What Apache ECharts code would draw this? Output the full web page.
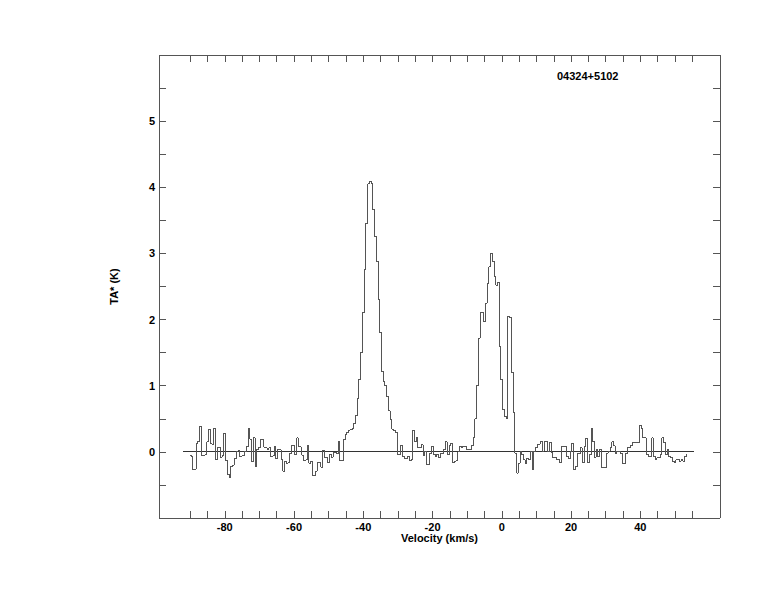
<!DOCTYPE html>
<html>
<head>
<meta charset="utf-8">
<script src="https://cdn.jsdelivr.net/npm/echarts@6/dist/echarts.min.js"></script>
<style>html,body{margin:0;padding:0;background:#fff}#c{width:774px;height:612px}
#c svg path{shape-rendering:crispEdges}</style>
</head>
<body>
<div id="c"></div>
<script>
// ---- data ----
const sourceName = '04324+5102';
const xTitle = 'Velocity (km/s)';
const yTitle = 'TA* (K)';
const vStart = -90;      // first channel velocity (km/s)
const dv = 0.5;          // channel width (km/s)
const ta = [
  // -90 .. -85.5
  -0.05, -0.07, -0.27, -0.26, 0.12, 0.16, 0.39, -0.05, -0.05, -0.04,
  // -85 .. -80.5
  0.15, 0.34, 0.12, 0.11, 0.36, -0.12, 0.06, 0.06, -0.08, -0.05,
  // -80 .. -75.5
  0.28, -0.13, -0.34, -0.39, -0.22, -0.2, -0.1, 0.01, 0.02, -0.07,
  // -75 .. -70.5
  -0.06, -0.05, 0.01, 0.08, 0.35, 0.19, -0.15, 0.21, -0.22, 0.04,
  // -70 .. -65.5
  0.06, 0.18, 0.18, 0.07, 0.06, 0.04, 0.06, -0.07, -0.06, 0.08,
  // -65 .. -60.5
  -0.1, 0.03, 0.03, -0.12, -0.29, -0.14, -0.17, -0.16, -0.02, 0.1,
  // -60 .. -55.5
  0.1, -0.04, 0.21, 0.08, 0.07, -0.05, -0.13, -0.12, 0.1, -0.17,
  // -55 .. -50.5
  -0.14, -0.36, -0.36, -0.29, -0.16, -0.16, -0.23, 0.02, -0.09, -0.09,
  // -50 .. -45.5
  -0.16, -0.04, -0.08, -0.01, -0.01, -0.03, 0.16, -0.13, -0.13, 0.18,
  // -45 .. -40.5
  0.26, 0.3, 0.33, 0.34, 0.35, 0.43, 0.55, 0.8, 1.1, 1.5,
  // -40 .. -35.5
  2.1, 2.75, 3.46, 4.05, 4.09, 4.06, 3.66, 3.26, 2.88, 2.3,
  // -35 .. -30.5
  1.8, 1.22, 1.06, 1.0, 0.84, 0.62, 0.49, 0.34, 0.32, 0.3,
  // -30 .. -25.5
  -0.04, -0.04, 0.1, -0.07, -0.1, -0.1, -0.07, -0.13, -0.12, 0.33,
  // -25 .. -20.5
  0.15, 0.21, 0.06, 0.06, 0.11, -0.06, 0.01, -0.19, -0.19, -0.02,
  // -20 .. -15.5
  0.08, -0.04, -0.07, -0.04, -0.08, -0.02, -0.02, 0.04, 0.15, -0.04,
  // -15 .. -10.5
  0.1, 0.13, -0.16, -0.14, -0.13, 0.0, 0.08, 0.06, 0.08, 0.08,
  // -10 .. -5.5
  0.04, 0.03, 0.03, 0.09, 0.22, 0.5, 1.0, 1.72, 2.1, 2.1,
  // -5 .. -0.5
  1.97, 2.25, 2.55, 2.8, 3.0, 2.88, 2.65, 2.52, 2.56, 1.59,
  // 0 .. 4.5
  1.09, 0.64, 0.54, 0.51, 2.05, 2.03, 1.2, 0.6, -0.02, -0.32,
  // 5 .. 9.5
  -0.17, 0.0, -0.04, -0.12, -0.17, -0.1, -0.12, 0.01, -0.27, 0.01,
  // 10 .. 14.5
  0.06, 0.11, 0.12, 0.16, 0.01, 0.16, 0.15, 0.0, 0.14, -0.01,
  // 15 .. 19.5
  -0.09, -0.09, -0.12, -0.12, -0.16, 0.08, 0.08, 0.08, -0.07, -0.1,
  // 20 .. 24.5
  0.0, 0.13, -0.27, -0.22, -0.02, -0.02, 0.06, -0.16, 0.08, 0.2,
  // 25 .. 29.5
  -0.16, -0.04, 0.35, 0.16, -0.08, 0.04, -0.07, 0.04, -0.23, -0.23,
  // 30 .. 34.5
  -0.23, -0.02, 0.01, 0.06, 0.15, 0.09, -0.02, 0.01, 0.01, -0.02,
  // 35 .. 39.5
  -0.17, -0.17, -0.02, 0.06, 0.06, 0.1, 0.14, 0.14, 0.14, 0.14,
  // 40 .. 44.5
  0.4, 0.36, 0.21, 0.21, -0.04, -0.07, -0.07, 0.21, -0.07, -0.12,
  // 45 .. 49.5
  -0.09, -0.09, -0.04, 0.21, 0.14, -0.04, 0.04, -0.07, -0.09, -0.14,
  // 50 .. 53.5
  -0.16, -0.12, -0.12, -0.14, -0.12, -0.14, -0.07, -0.04
];
const baselineRange = [-92, 55.5];
const xRange = [-99, 63];
const yRange = [-1, 6];
const xTickValues = [-90,-85,-80,-75,-70,-65,-60,-55,-50,-45,-40,-35,-30,-25,-20,-15,-10,-5,0,5,10,15,20,25,30,35,40,45,50,55];
const xLabelValues = [-80,-60,-40,-20,0,20,40];
const yTickValues = [-0.5,0,0.5,1,1.5,2,2.5,3,3.5,4,4.5,5,5.5];
const yLabelValues = [0,1,2,3,4,5];

// ---- chart ----
const FONT = '"Liberation Sans", Arial, Helvetica, sans-serif';
const frame = '#555';
const spectrum = ta.map((t, i) => [vStart + i * dv, t]);
const baseline = baselineRange.map(v => [v, 0]);

const labelStyle = { color: '#000', fontWeight: 'bold', fontSize: 11, lineHeight: 11, fontFamily: FONT };
function xAx(pos, showLabel) {
  return {
    type: 'value', min: xRange[0], max: xRange[1], position: pos,
    axisLine: { show: true, onZero: false, lineStyle: { color: frame, width: 1 } },
    axisTick: { show: true, inside: true, length: 7, customValues: xTickValues, lineStyle: { color: frame } },
    axisLabel: Object.assign({ show: showLabel, margin: 3, customValues: xLabelValues }, labelStyle),
    splitLine: { show: false },
    name: showLabel ? xTitle : '', nameLocation: 'middle', nameGap: 14, nameMoveOverlap: false,
    nameTextStyle: Object.assign({}, labelStyle)
  };
}
function yAx(pos, showLabel) {
  return {
    type: 'value', min: yRange[0], max: yRange[1], position: pos,
    axisLine: { show: true, onZero: false, lineStyle: { color: frame, width: 1 } },
    axisTick: { show: true, inside: true, length: 7, customValues: yTickValues, lineStyle: { color: frame } },
    axisLabel: Object.assign({ show: showLabel, margin: 4, customValues: yLabelValues }, labelStyle),
    splitLine: { show: false },
    name: showLabel ? yTitle : '', nameLocation: 'middle', nameGap: 40, nameRotate: 90, nameMoveOverlap: false,
    nameTextStyle: Object.assign({}, labelStyle)
  };
}

const chart = echarts.init(document.getElementById('c'), null, { renderer: 'svg' });
chart.setOption({
  animation: false,
  backgroundColor: '#fff',
  grid: { left: 159, right: 54, top: 55, bottom: 94 },
  xAxis: [xAx('bottom', true), xAx('top', false)],
  yAxis: [yAx('left', true), yAx('right', false)],
  graphic: [{
    type: 'text', left: 557, top: 70,
    style: { text: sourceName, font: 'bold 11px ' + FONT, fill: '#000' }
  }],
  series: [
    { type: 'line', data: baseline, symbol: 'none', xAxisIndex: 0, yAxisIndex: 0,
      lineStyle: { color: '#333', width: 1 }, silent: true },
    { type: 'line', step: 'middle', data: spectrum, symbol: 'none', xAxisIndex: 0, yAxisIndex: 0,
      lineStyle: { color: '#555', width: 1 }, silent: true }
  ]
});
</script>
</body>
</html>
